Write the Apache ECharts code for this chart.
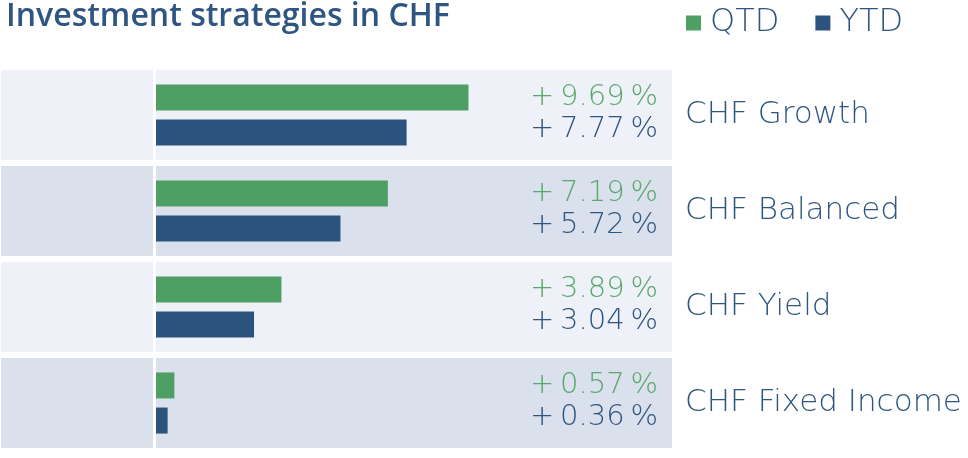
<!DOCTYPE html>
<html>
<head>
<meta charset="utf-8">
<script src="https://cdn.jsdelivr.net/npm/echarts@6/dist/echarts.min.js"></script>
<style>
  html, body { margin: 0; padding: 0; background: #fff; }
  #main { width: 968px; height: 458px; }
</style>
</head>
<body>
<div id="main"></div>
<script>
// data
var categories = ["CHF Growth", "CHF Balanced", "CHF Yield", "CHF Fixed Income"];
var qtd = [9.69, 7.19, 3.89, 0.57];
var ytd = [7.77, 5.72, 3.04, 0.36];

var GREEN = "#4e9f64";
var BLUE = "#2c527e";
var TEXT_BLUE = "#2f5682";
var TEXT_GREEN = "#5aa86d";
var TITLE_FONT = "Open Sans";
var FONT = "DejaVu Sans";

function fmt(v) {
  return "+\u2009" + v.toFixed(2) + "\u2009%";
}

var chart = echarts.init(document.getElementById("main"));

chart.setOption({
  animation: false,
  title: {
    text: "Investment strategies in CHF",
    left: 1,
    top: -4,
    textStyle: { color: TEXT_BLUE, fontSize: 32, fontWeight: 600, fontFamily: TITLE_FONT }
  },
  legend: {
    data: ["QTD", "YTD"],
    left: 681,
    top: 2,
    icon: "rect",
    itemWidth: 15,
    itemHeight: 15,
    itemGap: 36,
    textStyle: { color: TEXT_BLUE, fontSize: 32, fontFamily: FONT, fontWeight: 200, padding: [0, 0, 0, 4] }
  },
  grid: { left: 156, right: 296, top: 67, bottom: 7 },
  xAxis: {
    type: "value",
    min: 0,
    max: 16,
    show: false
  },
  yAxis: {
    type: "category",
    data: categories,
    inverse: true,
    position: "right",
    axisLine: { show: false },
    axisTick: { show: false },
    splitLine: { show: false },
    axisLabel: {
      margin: 13,
      align: "left",
      color: TEXT_BLUE,
      fontSize: 31,
      fontFamily: FONT,
      fontWeight: 200
    }
  },
  series: [
    {
      // background bands
      type: "custom",
      silent: true,
      z: 0,
      data: categories.map(function (c, i) { return [0, i]; }),
      encode: { x: 0, y: 1 },
      renderItem: function (params, api) {
        var cs = params.coordSys;
        var idx = api.value(1);
        var c = api.coord([0, idx]);
        var h = api.size([0, 1])[1] - 6;
        var color = idx % 2 === 0 ? "#eef2f8" : "#dbe1ec";
        return {
          type: "group",
          children: [
            { type: "rect", shape: { x: 1, y: c[1] - h / 2, width: cs.x - 4, height: h }, style: { fill: color } },
            { type: "rect", shape: { x: cs.x, y: c[1] - h / 2, width: cs.width, height: h }, style: { fill: color } }
          ]
        };
      }
    },
    {
      name: "QTD",
      type: "bar",
      data: qtd,
      barWidth: 26,
      barGap: "35%",
      itemStyle: { color: GREEN },
      z: 2
    },
    {
      name: "YTD",
      type: "bar",
      data: ytd,
      barWidth: 26,
      itemStyle: { color: BLUE },
      z: 2
    },
    {
      // value labels, right aligned in the band
      type: "custom",
      silent: true,
      z: 3,
      data: categories.map(function (c, i) { return [0, i, qtd[i], ytd[i]]; }),
      encode: { x: 0, y: 1 },
      renderItem: function (params, api) {
        var cs = params.coordSys;
        var idx = api.value(1);
        var c = api.coord([0, idx]);
        var x = cs.x + cs.width - 14;
        var common = { fontSize: 29, fontFamily: FONT, fontWeight: 200, align: "right", verticalAlign: "middle" };
        return {
          type: "group",
          children: [
            { type: "text", style: Object.assign({ x: x, y: c[1] - 18, text: fmt(api.value(2)), fill: TEXT_GREEN }, common) },
            { type: "text", style: Object.assign({ x: x, y: c[1] + 14, text: fmt(api.value(3)), fill: TEXT_BLUE }, common) }
          ]
        };
      }
    }
  ]
});
</script>
</body>
</html>
